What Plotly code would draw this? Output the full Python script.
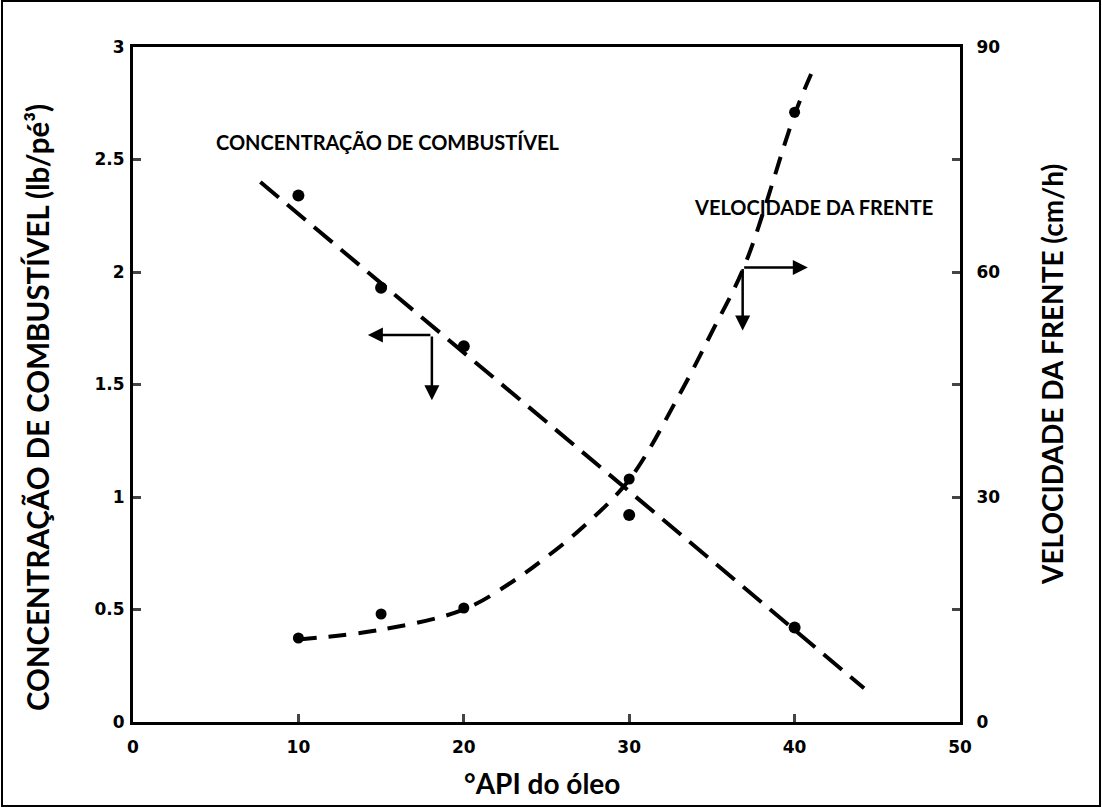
import plotly.graph_objects as go

# Data
api_points = [10, 15, 20, 30, 40]
concentracao = [2.34, 1.93, 1.67, 0.92, 0.42]          # lb/pé³ (left axis)
velocidade = [11.2, 14.4, 15.2, 32.4, 81.3]             # cm/h (right axis)

# Dashed trend lines as drawn in the picture
conc_line_x = [7.7, 44.2]
conc_line_y = [2.40, 0.15]
vel_curve_x = [10, 15, 20, 23, 25, 27, 30, 33, 35, 37, 40, 41]
vel_curve_y = [11.0, 12.3, 15.0, 18.8, 22.0, 25.6, 32.3, 43.5, 52.0, 61.0, 81.0, 86.4]

x_ticks = [0, 10, 20, 30, 40, 50]
y_ticks = [0, 0.5, 1, 1.5, 2, 2.5, 3]
y_tick_text = ["0", "0.5", "1", "1.5", "2", "2.5", "3"]
y2_ticks = [0, 15, 30, 45, 60, 75, 90]
y2_tick_text = ["0", "", "30", "", "60", "", "90"]

FONT = "Lato"
fig = go.Figure()

fig.add_trace(go.Scatter(x=conc_line_x, y=conc_line_y, mode="lines",
                         line=dict(color="black", width=4, dash="24px,11px"),
                         showlegend=False, hoverinfo="skip"))
fig.add_trace(go.Scatter(x=api_points, y=concentracao, mode="markers",
                         marker=dict(color="black", size=12),
                         showlegend=False))
fig.add_trace(go.Scatter(x=vel_curve_x, y=vel_curve_y, mode="lines", yaxis="y2",
                         line=dict(color="black", width=4, dash="18px,12px", shape="spline"),
                         showlegend=False, hoverinfo="skip"))
fig.add_trace(go.Scatter(x=api_points, y=velocidade, mode="markers", yaxis="y2",
                         marker=dict(color="black", size=11),
                         showlegend=False))

tickfont = dict(family="DejaVu Sans", size=17, color="black", weight=700)
fig.update_layout(
    width=1102, height=808,
    margin=dict(l=133, r=142, t=47, b=86),
    paper_bgcolor="white", plot_bgcolor="white",
    font=dict(family=FONT, color="black"),
    xaxis=dict(range=[0, 50], tickvals=x_ticks, ticks="inside", ticklen=8, tickwidth=3,
               showline=True, linewidth=3, linecolor="black", mirror=True,
               showgrid=False, zeroline=False, tickfont=tickfont, ticklabelstandoff=8),
    yaxis=dict(range=[0, 3], tickvals=y_ticks, ticktext=y_tick_text, ticks="inside",
               ticklen=8, tickwidth=3, showline=True, linewidth=3, linecolor="black",
               showgrid=False, zeroline=False, tickfont=tickfont, ticklabelstandoff=2),
    yaxis2=dict(range=[0, 90], tickvals=y2_ticks, ticktext=y2_tick_text, ticks="inside",
                ticklen=8, tickwidth=3, overlaying="y", side="right",
                showline=True, linewidth=3, linecolor="black",
                showgrid=False, zeroline=False, tickfont=tickfont, ticklabelstandoff=10),
)

W, H = 827, 675  # plot area size in px (for paper coordinates)

# axis titles
fig.add_annotation(x=(542 - 133) / W, y=(722 - 783) / H, xref="paper", yref="paper",
                   text="°API do óleo", showarrow=False, xanchor="center", yanchor="middle",
                   font=dict(family=FONT, size=28, weight=700, color="black"))
fig.add_annotation(x=(37 - 133) / W, y=(722 - 408) / H, xref="paper", yref="paper",
                   text="CONCENTRAÇÃO DE COMBUSTÍVEL (lb/pé³)", textangle=-90,
                   showarrow=False, xanchor="center", yanchor="middle",
                   font=dict(family=FONT, size=29.5, weight=700, color="black"))
fig.add_annotation(x=(1052 - 133) / W, y=(722 - 375) / H, xref="paper", yref="paper",
                   text="VELOCIDADE DA FRENTE (cm/h)", textangle=-90,
                   showarrow=False, xanchor="center", yanchor="middle",
                   font=dict(family=FONT, size=28, weight=700, color="black"))

# text labels
fig.add_annotation(x=4.9, y=2.58, xref="x", yref="y", text="CONCENTRAÇÃO DE COMBUSTÍVEL",
                   showarrow=False, xanchor="left", yanchor="middle",
                   font=dict(family=FONT, size=20, weight=700, color="black"))
fig.add_annotation(x=33.8, y=2.29, xref="x", yref="y", text="VELOCIDADE DA FRENTE",
                   showarrow=False, xanchor="left", yanchor="middle",
                   font=dict(family=FONT, size=20, weight=700, color="black"))

# arrows
def arrow(x0, y0, x1, y1):
    fig.add_annotation(x=x1, y=y1, ax=x0, ay=y0, xref="x", yref="y", axref="x", ayref="y",
                       text="", showarrow=True, arrowhead=2, arrowsize=1.2, arrowwidth=2.5,
                       arrowcolor="black")

arrow(18.07, 1.72, 14.2, 1.72)
arrow(18.07, 1.72, 18.07, 1.43)
arrow(36.86, 2.02, 40.8, 2.02)
arrow(36.86, 2.02, 36.86, 1.74)

# outer frame
fig.add_shape(type="rect", xref="paper", yref="paper",
              x0=(2 - 133) / W, x1=(1100 - 133) / W,
              y0=(722 - 806) / H, y1=(722 - 1) / H,
              line=dict(color="black", width=2), fillcolor="rgba(0,0,0,0)")

fig.write_html("out.html")
